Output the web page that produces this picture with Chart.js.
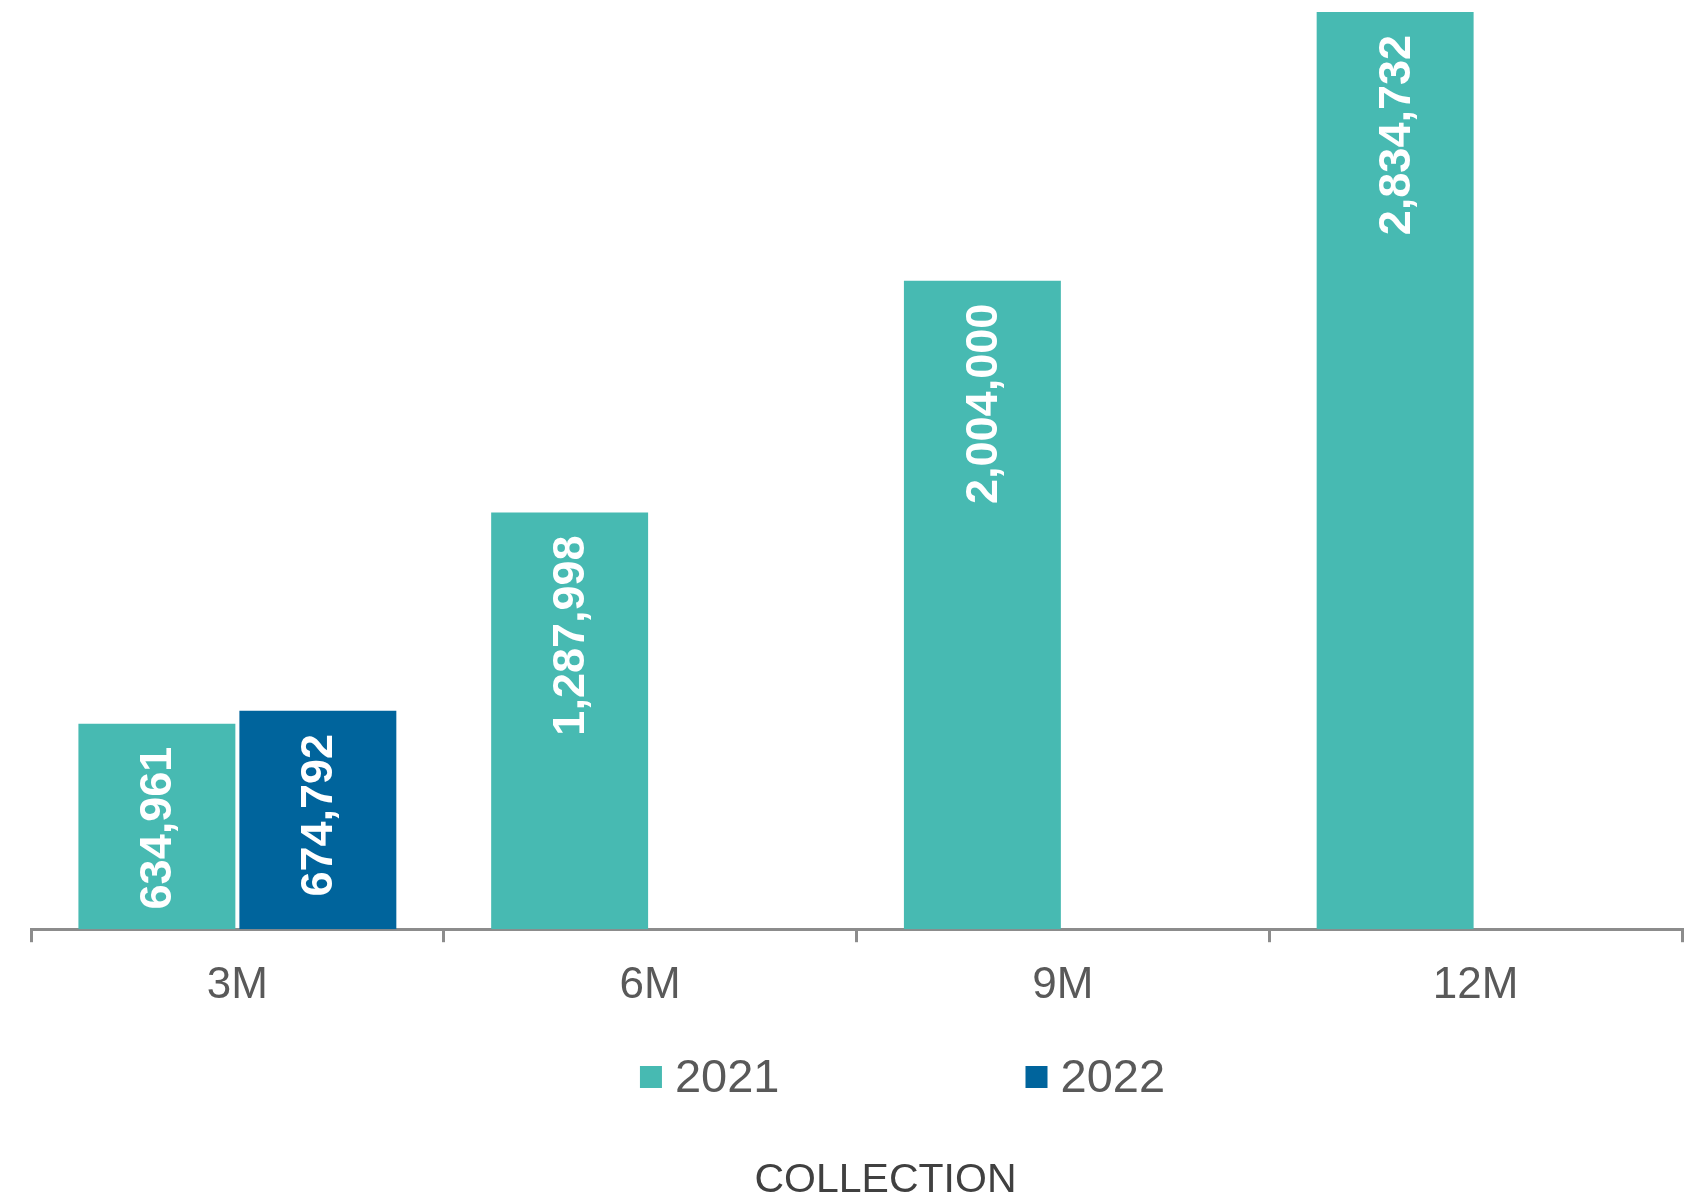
<!DOCTYPE html>
<html>
<head>
<meta charset="utf-8">
<script src="https://cdn.jsdelivr.net/npm/chart.js@4.4.1/dist/chart.umd.min.js"></script>
<style>
  html, body { margin: 0; padding: 0; background: #fff; }
  #wrap { width: 1699px; height: 1200px; position: relative; }
</style>
</head>
<body>
<div id="wrap"><canvas id="collectionChart"></canvas></div>
<script>
// chart data
const categories = ['3M', '6M', '9M', '12M'];
const seriesNames = ['2021', '2022'];
const values2021 = [634961, 1287998, 2004000, 2834732];
const values2022 = [674792, null, null, null];
const axisTitle = 'COLLECTION';

const TEAL = '#47BAB2';
const NAVY = '#00649C';
const FONT = '"Liberation Sans", Arial, sans-serif';

// white rotated value labels at the top inside each bar
const barLabels = {
    id: 'barLabels',
    afterDatasetsDraw(chart) {
        const ctx = chart.ctx;
        ctx.save();
        ctx.fillStyle = '#ffffff';
        ctx.font = 'bold 45px ' + FONT;
        ctx.textAlign = 'right';
        ctx.textBaseline = 'middle';
        chart.data.datasets.forEach((ds, i) => {
            chart.getDatasetMeta(i).data.forEach((bar, j) => {
                const v = ds.data[j];
                if (v === null || v === undefined) return;
                ctx.save();
                ctx.translate(bar.x + 2, bar.y + 23);
                ctx.rotate(-Math.PI / 2);
                ctx.fillText(v.toLocaleString('en-US'), 0, 0);
                ctx.restore();
            });
        });
        ctx.restore();
    }
};

// legend with a wide gap between the items, and the caption under it
const bottomBlock = {
    id: 'bottomBlock',
    afterDraw(chart) {
        const ctx = chart.ctx;
        const area = chart.chartArea;
        const mid = (area.left + area.right) / 2;
        ctx.save();
        ctx.textBaseline = 'middle';
        ctx.textAlign = 'left';

        // legend
        ctx.font = '47px ' + FONT;
        const box = 22, textGap = 13, itemGap = 246;
        const items = chart.data.datasets.map(ds => ({
            text: ds.label,
            color: ds.backgroundColor,
            w: ctx.measureText(ds.label).width
        }));
        let total = itemGap * (items.length - 1);
        items.forEach(it => { total += box + textGap + it.w; });
        let x = mid + 46 - total / 2;
        const y = chart.height - 123;
        items.forEach(it => {
            ctx.fillStyle = it.color;
            ctx.fillRect(x, y - box / 2, box, box);
            ctx.fillStyle = '#595959';
            ctx.fillText(it.text, x + box + textGap, y + 2);
            x += box + textGap + it.w + itemGap;
        });

        // caption
        ctx.font = '41px ' + FONT;
        ctx.fillStyle = '#404040';
        ctx.textAlign = 'center';
        ctx.fillText(axisTitle, mid + 29, chart.height - 19);
        ctx.restore();
    }
};

const ctx = document.getElementById('collectionChart').getContext('2d');

const collectionChart = new Chart(ctx, {
    type: 'bar',
    data: {
        labels: categories,
        datasets: [{
            label: seriesNames[0],
            data: values2021,
            backgroundColor: TEAL
        }, {
            label: seriesNames[1],
            data: values2022,
            backgroundColor: NAVY
        }]
    },
    options: {
        responsive: true,
        maintainAspectRatio: false,
        animation: false,
        categoryPercentage: 0.78,
        barPercentage: 0.975,
        layout: {
            padding: { top: 12, left: 31, right: 17, bottom: 171 }
        },
        plugins: {
            legend: { display: false },
            tooltip: { enabled: false }
        },
        scales: {
            x: {
                grid: {
                    offset: true,
                    drawOnChartArea: false,
                    drawTicks: true,
                    tickLength: 13,
                    color: '#8c8c8c',
                    lineWidth: 3
                },
                border: { display: true, color: '#8c8c8c', width: 3 },
                ticks: {
                    color: '#595959',
                    padding: 17,
                    font: { size: 44, family: FONT }
                }
            },
            y: {
                display: false,
                min: 0,
                max: Math.max(...values2021, ...values2022.filter(v => v !== null))
            }
        }
    },
    plugins: [barLabels, bottomBlock]
});
</script>
</body>
</html>
